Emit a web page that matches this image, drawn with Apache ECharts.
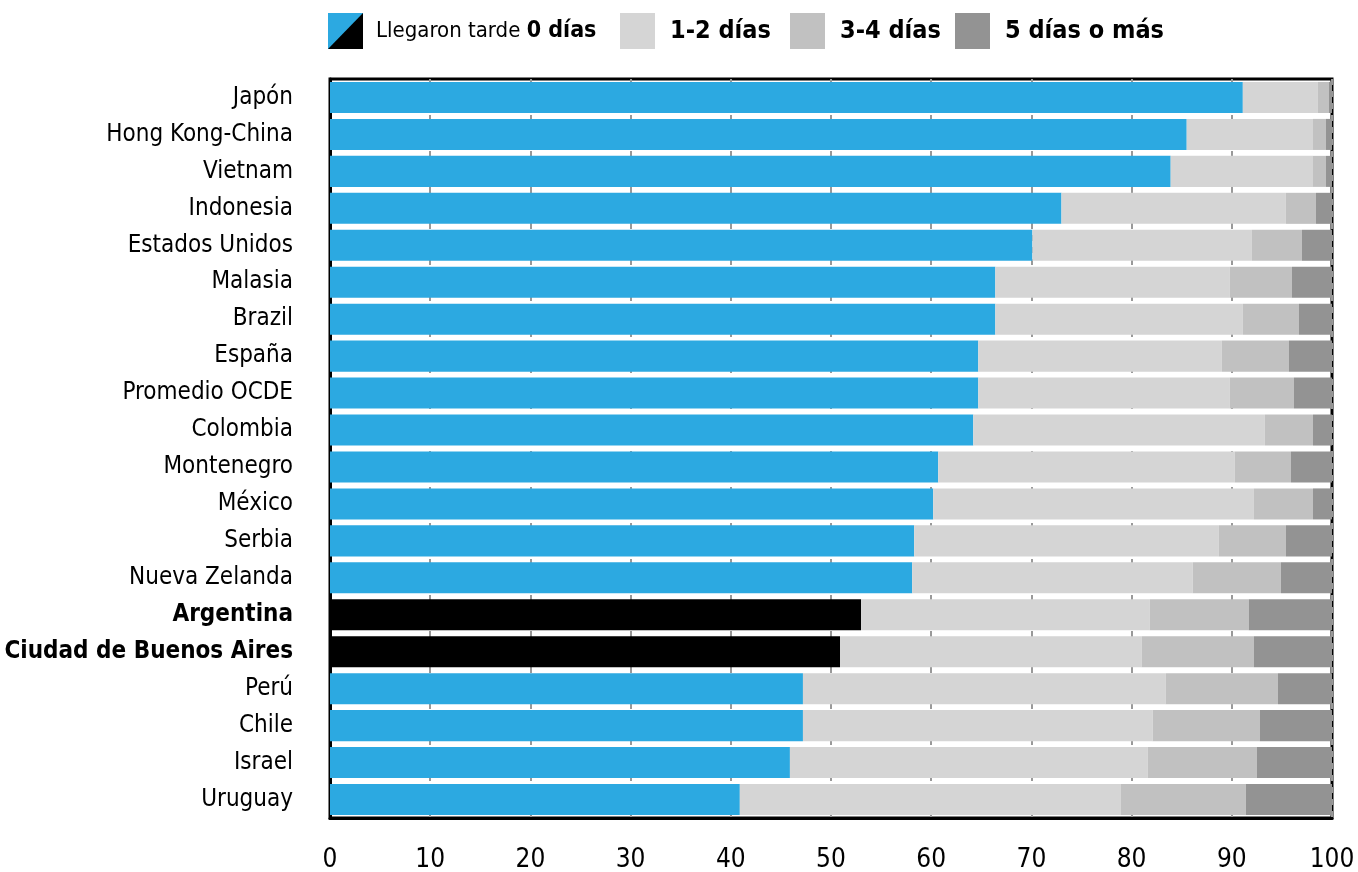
<!DOCTYPE html>
<html>
<head>
<meta charset="utf-8">
<script src="https://cdn.jsdelivr.net/npm/echarts@6/dist/echarts.min.js"></script>
<style>
  html, body { margin: 0; padding: 0; background: #fff; }
  #chart { width: 1358px; height: 872px; }
</style>
</head>
<body>
<div id="chart"></div>
<script>
// Países (de arriba hacia abajo)
const categories = [
  'Japón', 'Hong Kong-China', 'Vietnam', 'Indonesia', 'Estados Unidos',
  'Malasia', 'Brazil', 'España', 'Promedio OCDE', 'Colombia',
  'Montenegro', 'México', 'Serbia', 'Nueva Zelanda', 'Argentina',
  'Ciudad de Buenos Aires', 'Perú', 'Chile', 'Israel', 'Uruguay'
];
// Países destacados en negro y negrita
const highlighted = ['Argentina', 'Ciudad de Buenos Aires'];

// Nombres de las series (leyenda)
const seriesNames = ['0 días', '1-2 días', '3-4 días', '5 días o más'];

// Porcentaje de alumnos según días que llegaron tarde
const dias0   = [91.1, 85.5, 83.9, 73.0, 70.1, 66.4, 66.4, 64.7, 64.7, 64.2, 60.7, 60.2, 58.3, 58.1, 53.0, 50.9, 47.2, 47.2, 45.9, 40.9];
const dias1a2 = [7.5, 12.6, 14.2, 22.4, 21.9, 23.4, 24.7, 24.3, 25.1, 29.1, 29.6, 32.0, 30.4, 28.0, 28.8, 30.1, 36.2, 34.9, 35.7, 38.0];
const dias3a4 = [1.1, 1.3, 1.3, 3.0, 5.0, 6.2, 5.6, 6.7, 6.4, 4.8, 5.6, 5.9, 6.7, 8.8, 9.9, 11.2, 11.2, 10.7, 10.9, 12.5];
const dias5   = [0.3, 0.6, 0.6, 1.6, 3.0, 4.0, 3.3, 4.3, 3.8, 1.9, 4.1, 1.9, 4.6, 5.1, 8.3, 7.8, 5.4, 7.2, 7.5, 8.6];

const xTicks = [0, 10, 20, 30, 40, 50, 60, 70, 80, 90, 100];

const FONT = '"DejaVu Sans Condensed", "Liberation Sans Narrow", sans-serif';
const BLUE = '#2ca9e1', LIGHT = '#d5d5d5', MID = '#c1c1c1', DARK = '#939393';

const blueData = dias0.map((v, i) => highlighted.includes(categories[i])
  ? { value: v, itemStyle: { color: '#000' } } : v);

const barBase = { type: 'bar', stack: 'total', barCategoryGap: '16%', animation: false,
  emphasis: { disabled: true } };

// una leyenda por serie, cada una en su posición horizontal
const legendLefts = [328, 620, 790, 955];
const legends = seriesNames.map((name, i) => ({
  left: legendLefts[i], top: 13, padding: 0,
  itemWidth: 35, itemHeight: 36,
  icon: 'rect',
  selectedMode: false,
  textStyle: {
    fontFamily: FONT, fontSize: 25, color: '#000', fontWeight: 'bold',
    padding: i === 0 ? [0, 0, 0, 8] : [0, 0, 0, 10],
    rich: {
      n: { fontFamily: FONT, fontSize: 22, fontWeight: 'normal', color: '#000' },
      b: { fontFamily: FONT, fontSize: 23, fontWeight: 'bold', color: '#000' }
    }
  },
  formatter: n => n === '0 días' ? '{n|Llegaron tarde }{b|0 días}' : n,
  data: [name]
}));

const chart = echarts.init(document.getElementById('chart'), null, { renderer: 'canvas' });
chart.setOption({
  backgroundColor: '#fff',
  textStyle: { fontFamily: FONT },
  legend: legends,
  graphic: [{
    // mitad negra del símbolo de la primera serie
    type: 'polygon', z: 100,
    shape: { points: [[363, 13], [363, 49], [328, 49]] },
    style: { fill: '#000' }
  }],
  grid: {
    left: 330, right: 26, top: 79, bottom: 54,
    outerBoundsMode: 'none', containLabel: false,
    show: true, borderColor: '#000', borderWidth: 3, backgroundColor: 'transparent'
  },
  xAxis: {
    type: 'value', min: 0, max: 100, interval: 10,
    axisLine: { show: true, lineStyle: { color: '#000', width: 3 } },
    axisTick: { show: false },
    axisLabel: { color: '#000', fontSize: 26, fontFamily: FONT, margin: 29,
      formatter: v => xTicks.includes(v) ? String(v) : '' },
    splitLine: { show: true, lineStyle: { color: '#999', width: 2, type: [6, 6] } }
  },
  yAxis: {
    type: 'category', data: categories, inverse: true,
    axisLine: { show: true, lineStyle: { color: '#000', width: 3 } },
    axisTick: { show: false },
    axisLabel: {
      color: '#000', fontSize: 24, fontFamily: FONT, margin: 37,
      formatter: v => highlighted.includes(v) ? '{b|' + v + '}' : v,
      rich: { b: { fontFamily: FONT, fontSize: 24, fontWeight: 'bold', color: '#000' } }
    }
  },
  series: [
    Object.assign({}, barBase, { name: seriesNames[0], data: blueData, itemStyle: { color: BLUE } }),
    Object.assign({}, barBase, { name: seriesNames[1], data: dias1a2, itemStyle: { color: LIGHT } }),
    Object.assign({}, barBase, { name: seriesNames[2], data: dias3a4, itemStyle: { color: MID } }),
    Object.assign({}, barBase, { name: seriesNames[3], data: dias5, itemStyle: { color: DARK } })
  ]
});
</script>
</body>
</html>
